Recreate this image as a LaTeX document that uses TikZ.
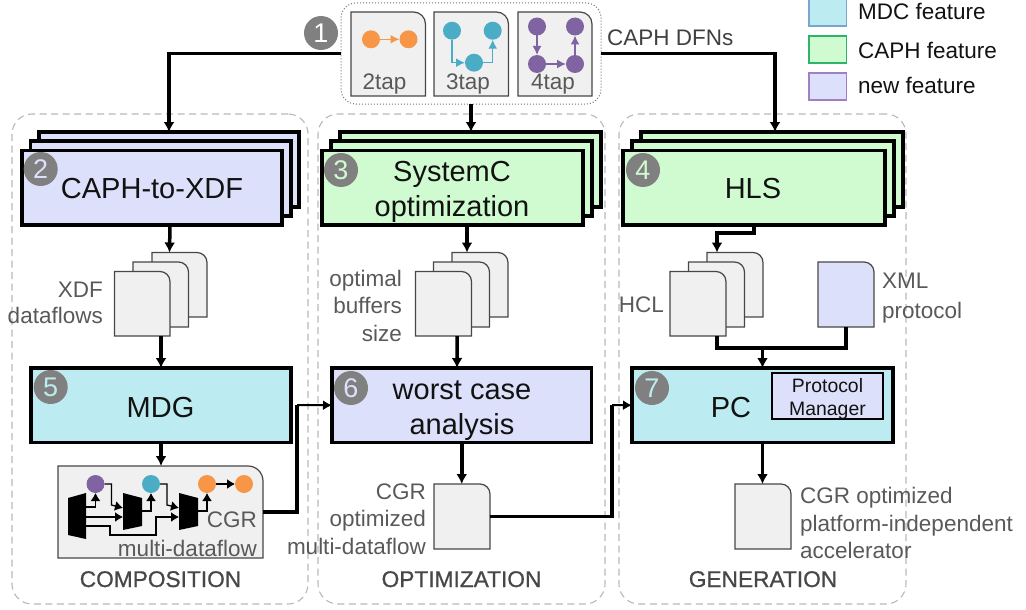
\documentclass[tikz,border=0pt]{standalone}
\usepackage{fontspec}
\setmainfont{Liberation Sans}
\usetikzlibrary{arrows.meta,calc}
\definecolor{cblue}{HTML}{BCECF2}
\definecolor{cgreen}{HTML}{D0FBD0}
\definecolor{cviolet}{HTML}{DDE0FA}
\definecolor{cdoc}{HTML}{F0F0F0}
\definecolor{cgray}{HTML}{595959}
\definecolor{corange}{HTML}{F79646}
\definecolor{cteal}{HTML}{4BACC6}
\definecolor{cpurple}{HTML}{8064A2}
\definecolor{lgblue}{HTML}{7AA5D0}
\definecolor{lggreen}{HTML}{2DB46A}
\definecolor{lgviolet}{HTML}{A080C0}
\tikzset{
  px/.style={inner sep=0pt,outer sep=0pt},
  group/.style={draw=black!28,line width=1.1pt,dash pattern=on 7pt off 4.5pt,rounded corners=20pt},
  procbox/.style={draw=black,line width=3.8pt,miter limit=10},
  docbox/.style={draw=black!72,line width=1.2pt,fill=cdoc},
  arr/.style={line width=3.5pt,-{Latex[length=10pt,width=11pt]}},
  noarr/.style={line width=3.5pt},
  thinarr/.style={line width=2pt,-{Latex[length=9pt,width=10pt]}},
  micro/.style={line width=1.3pt,-{Latex[length=8pt,width=10pt]},black},
  big/.style={anchor=base,inner sep=0pt,font=\fontsize{29}{35}\selectfont,text=black!93},
  lab/.style={inner sep=0pt,font=\fontsize{22.5}{27.5}\selectfont,text=cgray},
  legtext/.style={anchor=base west,inner sep=0pt,font=\fontsize{22.5}{27}\selectfont,text=black!93},
  title/.style={anchor=base,inner sep=0pt,font=\fontsize{22.7}{26}\selectfont\addfontfeature{FakeBold=0.8},text=black!72},
  dot/.style={circle,minimum size=18pt,inner sep=0pt,outer sep=0pt},
}
\newcommand{\rectat}[6]{%
  \pgfmathsetmacro{\bcx}{(#2+#4)/2}\pgfmathsetmacro{\bcy}{(#3+#5)/2}%
  \pgfmathsetmacro{\bw}{#4-#2}\pgfmathsetmacro{\bh}{#5-#3}%
  \node[px,minimum width=\bw pt,minimum height=\bh pt,#6] (#1) at (\bcx,\bcy) {};}
\newcommand{\docat}[7]{% name x1 y1 x2 y2 style radius
  \draw[#6] (#2,#5) -- (#2,#3) [rounded corners=#7pt] -- (#4,#3) [sharp corners] -- (#4,#5) -- cycle;
  \rectat{#1}{#2}{#3}{#4}{#5}{}}
\newcommand{\badge}[5]{%
  \node[circle,fill=black!50,minimum size=34pt,inner sep=0pt,text=#5,font=\fontsize{27}{30}\selectfont] (#1) at (#2,#3) {#4};}
\begin{document}
\begin{tikzpicture}[x=1pt,y=-1pt]
\useasboundingbox (0,0) rectangle (1026,610);
% groups
\rectat{gcomp}{12}{114}{308}{604}{group}
\rectat{gopt}{318}{114}{605}{604}{group}
\rectat{ggen}{619}{114}{906}{604}{group}
% legend
\rectat{lblue}{809}{-1}{846.5}{26}{draw=lgblue,line width=1.2pt,fill=cblue}
\rectat{lgreen}{809}{36}{846.5}{63}{draw=lggreen,line width=1.2pt,fill=cgreen}
\rectat{lviolet}{809}{73}{846.5}{100}{draw=lgviolet,line width=1.2pt,fill=cviolet}
\node[legtext] (tblue) at (858,20) {MDC feature};
\node[legtext] (tgreen) at (858,59) {CAPH feature};
\node[legtext] (tviolet) at (858,94) {new feature};
% top
\rectat{top}{341}{3}{601}{104}{draw=black!55,line width=1pt,dotted,rounded corners=15pt}
\docat{ctwo}{351}{12}{425.5}{96}{docbox}{12}
\docat{cthree}{434}{12}{508.5}{96}{docbox}{12}
\docat{cfour}{518}{12}{592}{96}{docbox}{12}
\node[anchor=base,lab] (ttwo) at (384.5,90) {2tap};
\node[anchor=base,lab] (tthree) at (468,90) {3tap};
\node[anchor=base,lab] (tfour) at (553,90) {4tap};
\node[dot,fill=corange] (a1) at (371,39.3) {};
\node[dot,fill=corange] (a2) at (408.5,39.3) {};
\draw[line width=1.5pt,corange,-{Latex[length=9pt,width=9pt]}] (a1) -- (a2);
\node[dot,fill=cteal] (b1) at (452,30.7) {};
\node[dot,fill=cteal] (b2) at (474,62.7) {};
\node[dot,fill=cteal] (b3) at (492.7,30.7) {};
\draw[line width=1.5pt,cteal,-{Latex[length=9pt,width=9pt]}] (b1.south) |- (b2.west);
\draw[line width=1.5pt,cteal,-{Latex[length=9pt,width=9pt]}] (b2.east) -| (b3.south);
\node[dot,fill=cpurple] (c1n) at (537,26.5) {};
\node[dot,fill=cpurple] (c2n) at (575,26.5) {};
\node[dot,fill=cpurple] (c3n) at (537,64) {};
\node[dot,fill=cpurple] (c4n) at (575,64) {};
\draw[line width=1.5pt,cpurple,-{Latex[length=9pt,width=9pt]}] (c1n) -- (c3n);
\draw[line width=1.5pt,cpurple,-{Latex[length=9pt,width=9pt]}] (c3n) -- (c4n);
\draw[line width=1.5pt,cpurple,-{Latex[length=9pt,width=9pt]}] (c4n) -- (c2n);
% stacks
\rectat{c3}{39}{132}{299}{207}{procbox,fill=cviolet}
\rectat{c2}{30.5}{141}{291}{216}{procbox,fill=cviolet}
\rectat{c1}{22}{150.5}{282}{225}{procbox,fill=cviolet}
\rectat{o3}{340}{132}{601}{207}{procbox,fill=cgreen}
\rectat{o2}{331}{141}{592}{216}{procbox,fill=cgreen}
\rectat{o1}{322}{150.5}{583}{225}{procbox,fill=cgreen}
\rectat{g3}{641}{132}{903}{207}{procbox,fill=cgreen}
\rectat{g2}{632}{141}{894}{216}{procbox,fill=cgreen}
\rectat{g1}{623}{150.5}{885}{225}{procbox,fill=cgreen}
\node[big] (tc1) at (152,198) {CAPH-to-XDF};
\node[big] (to1a) at (452,181) {SystemC};
\node[big] (to1b) at (452,216) {optimization};
\node[big] (tg1) at (753,198) {HLS};
% doc stacks
\docat{cd3}{152}{252.5}{207}{317}{docbox}{10}
\docat{cd2}{133}{262}{188.5}{327}{docbox}{10}
\docat{cd1}{114.5}{271.5}{170}{336}{docbox}{10}
\docat{od3}{452}{252.5}{508}{317}{docbox}{10}
\docat{od2}{433.5}{262}{489.5}{327}{docbox}{10}
\docat{od1}{415.5}{271.5}{471.5}{336}{docbox}{10}
\docat{gd3}{707}{252.5}{763}{317}{docbox}{10}
\docat{gd2}{688.5}{262}{744.5}{327}{docbox}{10}
\docat{gd1}{670}{271.5}{726}{336}{docbox}{10}
\docat{xml}{818}{262}{874}{327}{docbox,fill=cviolet}{10}
% labels
\node[lab,anchor=base east] (lx1) at (103,297) {XDF};
\node[lab,anchor=base east] (lx2) at (103,323.5) {dataflows};
\node[lab,anchor=base east] (lb1) at (402,286) {optimal};
\node[lab,anchor=base east] (lb2) at (402,313) {buffers};
\node[lab,anchor=base east] (lb3) at (402,341) {size};
\node[lab,anchor=base east] (lh) at (664,312) {HCL};
\node[lab,anchor=base west] (lm1) at (882,288) {XML};
\node[lab,anchor=base west] (lm2) at (882,318) {protocol};
% middle boxes
\rectat{mdg}{31}{368}{291}{442.5}{procbox,fill=cblue}
\rectat{worst}{332}{368}{591.5}{442.5}{procbox,fill=cviolet}
\rectat{pc}{632}{368}{893}{442.5}{procbox,fill=cblue}
\rectat{pm}{772}{373}{883}{419}{draw=black,line width=1.2pt,fill=cviolet}
\node[big] (tmdg) at (160.5,417) {MDG};
\node[big] (tw1) at (462,399) {worst case};
\node[big] (tw2) at (462,434) {analysis};
\node[big] (tpc) at (731,417) {PC};
\node[anchor=base,inner sep=0pt,font=\fontsize{19.4}{23}\selectfont,text=black!93] (tpm1) at (827.5,392) {Protocol};
\node[anchor=base,inner sep=0pt,font=\fontsize{19.4}{23}\selectfont,text=black!93] (tpm2) at (827.5,415) {Manager};
% lower docs
\docat{cgr}{58}{466}{263}{558}{docbox}{15}
\docat{od}{434}{484}{490}{549}{docbox}{10}
\docat{gd}{735}{484}{791}{549}{docbox}{10}
\node[lab,anchor=base east] (tcg1) at (257,527) {CGR};
\node[lab,anchor=base east] (tcg2) at (257,556) {multi-dataflow};
\node[lab,anchor=base east] (top1) at (426,499) {CGR};
\node[lab,anchor=base east] (top2) at (426,526) {optimized};
\node[lab,anchor=base east] (top3) at (426,554) {multi-dataflow};
\node[lab,anchor=base west] (tg1a) at (800,503) {CGR optimized};
\node[lab,anchor=base west] (tg2a) at (800,531) {platform-independent};
\node[lab,anchor=base west] (tg3a) at (800,558) {accelerator};
% titles
\node[title] (tt1) at (160.5,587) {COMPOSITION};
\node[title] (tt2) at (461.5,587) {OPTIMIZATION};
\node[title] (tt3) at (763,587) {GENERATION};
% CGR internals
\fill[black] (68,498) -- (86,493) -- (86,539) -- (68,535) -- cycle;
\fill[black] (123,493) -- (142,498) -- (142,526) -- (123,530) -- cycle;
\fill[black] (179,493) -- (198,498) -- (198,526) -- (179,530) -- cycle;
\node[dot,fill=cpurple] (n1) at (95.5,484) {};
\node[dot,fill=cteal] (n2) at (151,484) {};
\node[dot,fill=corange] (n3) at (207,484) {};
\node[dot,fill=corange] (n4) at (244,484) {};
\coordinate (m1a) at (86,507);
\coordinate (m1b) at (86,517);
\coordinate (m1c) at (86,526);
\coordinate (m2i1) at (123,508);
\coordinate (m2i2) at (123,517);
\coordinate (m2o) at (142,511);
\coordinate (m3i1) at (179,508);
\coordinate (m3i2) at (179,517);
\coordinate (m3o) at (198,511);
\draw[micro] (m1a) -| (n1.south);
\draw[micro] (m1b) -- (m2i2);
\draw[micro] (m2o) -| (n2.south);
\draw[micro] (m3o) -| (n3.south);
\draw[micro] (n3) -- (n4);
\draw[micro] (n1.east) -- ++(7,0) -- ++(0,21) -- (m2i1);
\draw[micro] (n2.east) -- ++(7,0) -- ++(0,21) -- (m3i1);
\draw[micro] (m1c) -- ++(24,0) -- ++(0,9) -- ++(46,0) -- ++(0,-18) -- (m3i2);
% connectors
\draw[arr] (top.west) -| (c3.north);
\draw[arr] (top.south) -- (top.south |- o3.north);
\draw[arr] (top.east) -| ([xshift=3pt]g3.north);
\draw[arr] ([xshift=18pt]c1.south) -- ([xshift=-10pt]cd3.north);
\draw[arr] ([xshift=14.5pt]o1.south) -- ([xshift=-13pt]od3.north);
\draw[arr] (g1.south) -- ++(0,8) -| ([xshift=-18pt]gd3.north);
\draw[arr] (cd1.south -| mdg.north) -- (mdg.north);
\draw[arr] ([xshift=13.5pt]od1.south) -- ([xshift=-4.7pt]worst.north);
\draw[noarr] ([xshift=19pt]gd1.south) -- ++(0,12) -| (xml.south);
\draw[arr] ([yshift=20pt]pc.north) -- (pc.north);
\draw[arr] (mdg.south) -- (mdg.south |- cgr.north);
\draw[arr] (worst.south) -- (worst.south |- od.north);
\draw[arr] (pc.south) -- (pc.south |- gd.north);
\coordinate (bend1) at (297,405);
\coordinate (bend2) at (612,405);
\draw[noarr] (cgr.east) -| (bend1);
\draw[thinarr] (bend1) -- (worst.west);
\draw[noarr] (od.east) -| (bend2);
\draw[thinarr] (bend2) -- (pc.west);
% badges
\badge{s1}{321}{33}{1}{white}
\badge{s2}{40.7}{169}{2}{cviolet}
\badge{s3}{341}{170}{3}{cgreen}
\badge{s4}{643}{170}{4}{cgreen}
\badge{s5}{50.7}{387}{5}{cblue}
\badge{s6}{351}{388}{6}{cviolet}
\badge{s7}{652}{388}{7}{cblue}
% CAPH DFNs
\node[lab,anchor=base west,text=black!75] (tdfn) at (607,46) {CAPH DFNs};
\end{tikzpicture}
\end{document}
